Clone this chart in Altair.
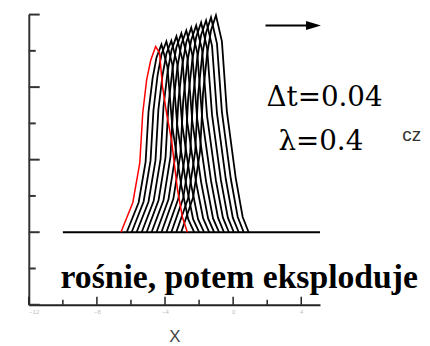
import altair as alt
import pandas as pd

# ---- data ----
red_x = [-6.59, -5.89, -5.48, -5.31, -5.08, -4.84, -4.55, -4.32, -4.15, -3.91, -3.62, -3.27, -2.98, -2.69]
red_y = [0, 0.41, 0.96, 1.64, 2.10, 2.37, 2.56, 2.47, 2.01, 1.64, 1.27, 0.59, 0.21, 0]

black_x = [
    [-6.25, -5.55, -5.14, -4.97, -4.73, -4.50, -4.21, -3.86, -3.57, -3.05, -2.64, -2.29],
    [-5.96, -5.26, -4.85, -4.68, -4.44, -4.21, -3.92, -3.57, -3.28, -2.76, -2.35, -2.00],
    [-5.67, -4.97, -4.56, -4.39, -4.15, -3.92, -3.63, -3.28, -2.99, -2.47, -2.06, -1.71],
    [-5.37, -4.67, -4.26, -4.09, -3.85, -3.62, -3.33, -2.98, -2.69, -2.17, -1.76, -1.41],
    [-5.08, -4.38, -3.97, -3.80, -3.56, -3.33, -3.04, -2.69, -2.40, -1.88, -1.47, -1.12],
    [-4.79, -4.09, -3.68, -3.51, -3.27, -3.04, -2.75, -2.40, -2.11, -1.59, -1.18, -0.83],
    [-4.50, -3.80, -3.39, -3.22, -2.98, -2.75, -2.46, -2.11, -1.82, -1.30, -0.89, -0.54],
    [-4.21, -3.51, -3.10, -2.93, -2.69, -2.46, -2.17, -1.82, -1.53, -1.01, -0.60, -0.25],
    [-3.92, -3.22, -2.81, -2.64, -2.40, -2.17, -1.88, -1.53, -1.24, -0.72, -0.31, 0.04],
    [-3.63, -2.93, -2.52, -2.35, -2.11, -1.88, -1.59, -1.24, -0.95, -0.43, -0.02, 0.33],
    [-3.34, -2.64, -2.23, -2.06, -1.82, -1.59, -1.30, -0.95, -0.66, -0.14, 0.27, 0.62],
    [-3.05, -2.35, -1.94, -1.77, -1.53, -1.30, -1.01, -0.66, -0.37, 0.15, 0.56, 0.91],
]
black_y = [
    [0, 0.41, 0.97, 1.66, 2.12, 2.41, 2.59, 2.28, 1.45, 0.65, 0.18, 0],
    [0, 0.42, 0.99, 1.68, 2.16, 2.45, 2.63, 2.31, 1.47, 0.66, 0.18, 0],
    [0, 0.42, 0.99, 1.69, 2.16, 2.46, 2.64, 2.32, 1.48, 0.66, 0.18, 0],
    [0, 0.43, 1.01, 1.73, 2.21, 2.51, 2.70, 2.38, 1.51, 0.68, 0.19, 0],
    [0, 0.44, 1.03, 1.75, 2.25, 2.55, 2.74, 2.41, 1.53, 0.69, 0.19, 0],
    [0, 0.44, 1.04, 1.78, 2.28, 2.59, 2.78, 2.45, 1.56, 0.70, 0.19, 0],
    [0, 0.45, 1.06, 1.80, 2.31, 2.62, 2.82, 2.48, 1.58, 0.71, 0.20, 0],
    [0, 0.46, 1.07, 1.82, 2.34, 2.65, 2.85, 2.51, 1.60, 0.71, 0.20, 0],
    [0, 0.46, 1.08, 1.85, 2.37, 2.69, 2.89, 2.54, 1.62, 0.72, 0.20, 0],
    [0, 0.47, 1.10, 1.87, 2.39, 2.72, 2.92, 2.57, 1.64, 0.73, 0.20, 0],
    [0, 0.47, 1.11, 1.89, 2.43, 2.75, 2.96, 2.60, 1.66, 0.74, 0.21, 0],
    [0, 0.48, 1.12, 1.91, 2.45, 2.78, 2.99, 2.63, 1.67, 0.75, 0.21, 0],
]

baseline_x = [-10.0, 5.1]
x_domain = [-12, 5.1]
y_domain = [-1, 3]
x_major = [-12, -8, -4, 0, 4]
x_minor = [-10, -6, -2, 2]
y_major = [-1, 0, 1, 2, 3]
y_minor = [-0.5, 0.5, 1.5, 2.5]

arrow_x = [1.9, 4.6]
arrow_head_x = 4.72
arrow_y = 2.85

labels = pd.DataFrame({
    "x": [1.96, 2.66, -10.14, 9.93],
    "y": [1.74, 1.14, -0.77, 1.26],
    "t": ["Δt=0.04", "λ=0.4", "rośnie, potem eksploduje", "cz"],
})

W, H = 294, 293

# ---- tables ----
rows = []
for i, (xs_, ys_) in enumerate(zip(black_x, black_y)):
    for j, (a, b) in enumerate(zip(xs_, ys_)):
        rows.append({"curve": i, "idx": j, "x": a, "y": b})
black_df = pd.DataFrame(rows)
red_df = pd.DataFrame({"x": red_x, "y": red_y, "idx": range(len(red_x))})

xs = alt.Scale(domain=x_domain, nice=False, zero=False)
ys = alt.Scale(domain=y_domain, nice=False, zero=False)

base_axis_x = alt.Axis(values=x_major, ticks=False, grid=False, domainColor="#222",
                       domainWidth=2, labelFontSize=6, labelColor="#bbb",
                       labelPadding=4, title="X", titleFontSize=17,
                       titleFontWeight="normal", titleColor="#444",
                       titleFont="Liberation Sans", titlePadding=14)
base_axis_y = alt.Axis(ticks=False, labels=False, grid=False, title=None,
                       domainColor="#333", domainWidth=2)

baseline = alt.Chart(pd.DataFrame({"x": [baseline_x[0]], "x2": [baseline_x[1]], "y": [0]})).mark_rule(
    color="black", strokeWidth=2).encode(
    x=alt.X("x:Q", scale=xs, axis=base_axis_x),
    x2="x2:Q",
    y=alt.Y("y:Q", scale=ys, axis=base_axis_y),
)

black = alt.Chart(black_df).mark_line(color="black", strokeWidth=1.8).encode(
    x=alt.X("x:Q", scale=xs),
    y=alt.Y("y:Q", scale=ys),
    detail="curve:N",
    order="idx:Q",
)

red = alt.Chart(red_df).mark_line(color="#ff0000", strokeWidth=1.5).encode(
    x=alt.X("x:Q", scale=xs),
    y=alt.Y("y:Q", scale=ys),
    order="idx:Q",
)

ytick_major = alt.Chart(pd.DataFrame({"v": y_major})).mark_rule(color="#333", strokeWidth=2).encode(
    y=alt.Y("v:Q", scale=ys), x=alt.value(0), x2=alt.value(11))
ytick_minor = alt.Chart(pd.DataFrame({"v": y_minor})).mark_rule(color="#333", strokeWidth=2).encode(
    y=alt.Y("v:Q", scale=ys), x=alt.value(0), x2=alt.value(7))
xtick_major = alt.Chart(pd.DataFrame({"v": x_major})).mark_rule(color="#222", strokeWidth=1.5).encode(
    x=alt.X("v:Q", scale=xs), y=alt.value(H), y2=alt.value(H - 8))
xtick_minor = alt.Chart(pd.DataFrame({"v": x_minor})).mark_rule(color="#222", strokeWidth=1.5).encode(
    x=alt.X("v:Q", scale=xs), y=alt.value(H), y2=alt.value(H - 5))

arrow_line = alt.Chart(pd.DataFrame({"x": [arrow_x[0]], "x2": [arrow_x[1]], "y": [arrow_y]})).mark_rule(
    color="black", strokeWidth=2).encode(
    x=alt.X("x:Q", scale=xs), x2="x2:Q", y=alt.Y("y:Q", scale=ys))
arrow_head = alt.Chart(pd.DataFrame({"x": [arrow_head_x], "y": [arrow_y]})).mark_point(
    shape="M-1,-0.6L1,0L-1,0.6Z", filled=True, color="black", size=225, opacity=1).encode(
    x=alt.X("x:Q", scale=xs), y=alt.Y("y:Q", scale=ys))

def txt(i, size, weight="normal", font="Liberation Serif", color="black"):
    return alt.Chart(labels.iloc[[i]]).mark_text(
        align="left", baseline="alphabetic", fontSize=size, fontWeight=weight,
        font=font, color=color).encode(
        x=alt.X("x:Q", scale=xs), y=alt.Y("y:Q", scale=ys), text="t:N")

texts = [
    txt(0, 28, font="DejaVu Serif"),
    txt(1, 28, font="DejaVu Serif"),
    txt(2, 34, "bold"),
    txt(3, 19, font="Liberation Sans", color="#333"),
]

chart = alt.layer(
    baseline, black, red, ytick_major, ytick_minor, xtick_major, xtick_minor,
    arrow_line, arrow_head, *texts
).properties(
    width=W, height=H,
    padding={"left": 20, "top": 2, "right": 0, "bottom": 0},
).configure_view(stroke=None)

chart.save("out.html", embed_options={"renderer": "svg", "actions": False})
